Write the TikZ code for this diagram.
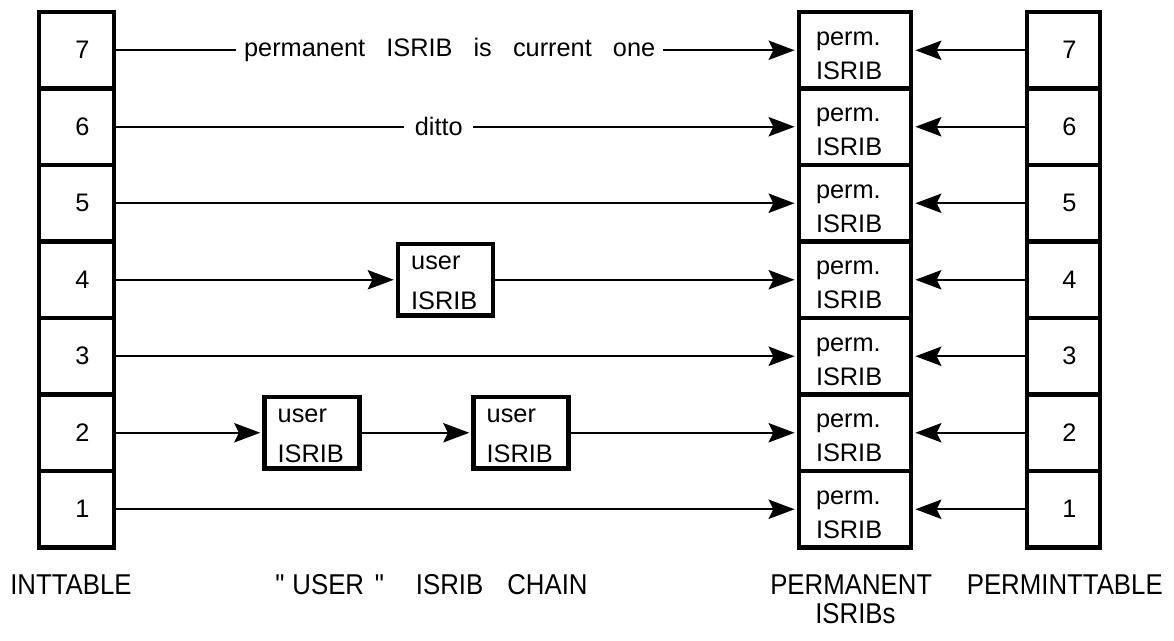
\documentclass[tikz,border=0pt]{standalone}
\usepackage{fontspec}
\setmainfont{Liberation Sans}
\newfontfamily\widefont[WordSpace=3]{Liberation Sans}
\newfontfamily\capfont[FakeStretch=0.9]{Liberation Sans}
\usetikzlibrary{arrows.meta}

\begin{document}
\begin{tikzpicture}[x=0.75pt,y=-0.75pt,
  frame/.style={draw, line width=3.4pt, inner sep=0pt},
  intcell/.style={frame, minimum width=56.25pt, minimum height=57.4pt,
    font=\fontsize{19}{19}\selectfont},
  rightcell/.style={intcell, minimum width=54.75pt},
  permcell/.style={frame, minimum width=84pt, minimum height=57.4pt},
  userbox/.style={frame, minimum width=71pt, minimum height=53.5pt},
  celltext/.style={inner sep=0pt, anchor=base west, font=\fontsize{19}{19}\selectfont},
  caption/.style={inner sep=0pt, anchor=base west, font=\capfont\fontsize{21.5}{21.5}\selectfont},
  conn/.style={line width=1.5pt},
  arr/.style={conn, -{Stealth[length=19.5pt, width=14.5pt, inset=3.5pt]}, shorten >=1.6pt},
  midtext/.style={fill=white, inner xsep=6pt, inner ysep=2pt,
    font=\widefont\fontsize{19}{19}\selectfont}
]
% page
\useasboundingbox (0,0) rectangle (1174,640);
\fill[white] (0,0) rectangle (1174,640);

% the three tables of seven rows
\foreach \k in {1,...,7} {
  \pgfmathsetmacro\yy{50.25+76.5*(7-\k)}
  \node[intcell] (L\k) at (76.5,\yy) {\hspace*{9pt}\k};
  \node[permcell] (P\k) at (855,\yy) {};
  \node[celltext] (Pa\k) at ([shift={(19,-5)}]P\k.west) {perm.};
  \node[celltext] (Pb\k) at ([shift={(19,29)}]P\k.west) {ISRIB};
  \node[rightcell] (R\k) at (1063.5,\yy) {\hspace*{9pt}\k};
}

% user ISRIB chain
\node[userbox] (U4) at (445.5,279.75) {};
\node[celltext] (U4a) at ([shift={(15,-10)}]U4.west) {user};
\node[celltext] (U4b) at ([shift={(15,30)}]U4.west) {ISRIB};
\node[userbox] (U2a) at (312,432.75) {};
\node[celltext] (U2aa) at ([shift={(15,-10)}]U2a.west) {user};
\node[celltext] (U2ab) at ([shift={(15,30)}]U2a.west) {ISRIB};
\node[userbox] (U2b) at (521,432.75) {};
\node[celltext] (U2ba) at ([shift={(15,-10)}]U2b.west) {user};
\node[celltext] (U2bb) at ([shift={(15,30)}]U2b.west) {ISRIB};

% INTTABLE entries
\draw[arr] (L7.east) -- node[midtext, pos=0.49] {permanent ISRIB is current one} (P7.west);
\draw[arr] (L6.east) -- node[midtext, pos=0.474, inner xsep=8pt] {ditto} (P6.west);
\draw[arr] (L5.east) -- (P5.west);
\draw[arr] (L4.east) -- (U4.west);
\draw[arr] (U4.east) -- (P4.west);
\draw[arr] (L3.east) -- (P3.west);
\draw[arr] (L2.east) -- (U2a.west);
\draw[arr] (U2a.east) -- (U2b.west);
\draw[arr] (U2b.east) -- (P2.west);
\draw[arr] (L1.east) -- (P1.west);

% PERMINTTABLE entries
\foreach \k in {1,...,7} {
  \draw[arr] (R\k.west) -- (P\k.east);
}

% captions
\node[caption] (capint) at (10,594) {INTTABLE};
\node[caption] (capchain) at (275,594)
  {"\hspace{6pt}USER\hspace{8pt}"\hspace{24pt}ISRIB\hspace{18pt}CHAIN};
\node[caption] (capperm) at (770,594) {PERMANENT};
\node[caption] (capisribs) at (815,623) {ISRIBs};
\node[caption, anchor=base east] (cappermint) at (1163,594) {PERMINTTABLE};
\end{tikzpicture}
\end{document}
